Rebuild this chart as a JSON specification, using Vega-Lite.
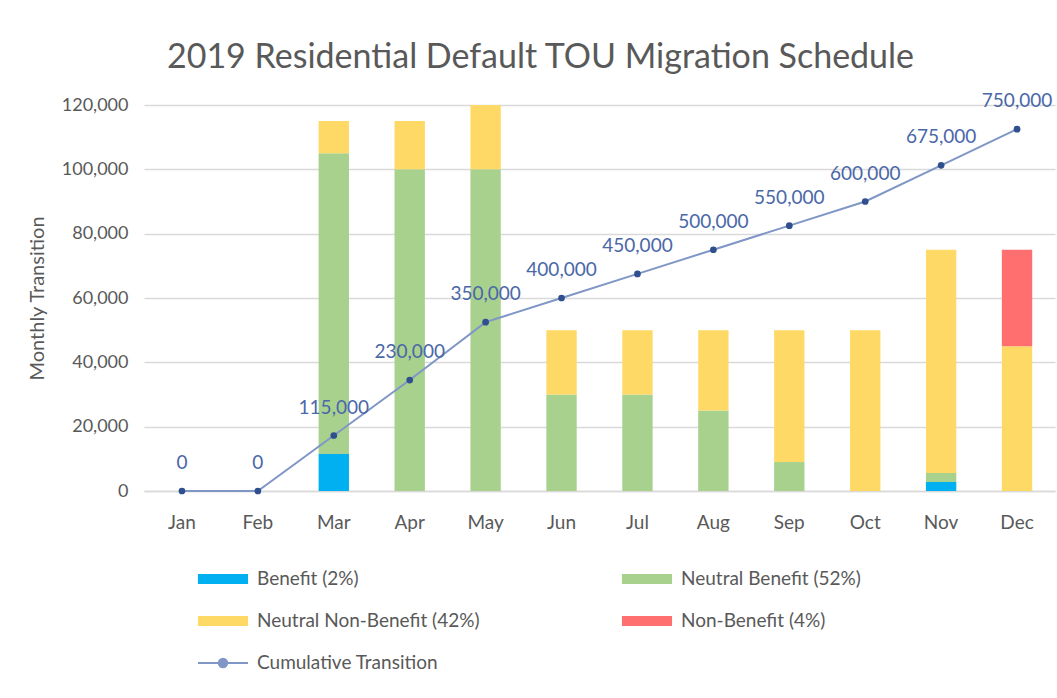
{
  "$schema": "https://vega.github.io/schema/vega-lite/v6.json",
  "autosize": {"type": "none"},
  "padding": {"left": 144, "top": 105, "right": 2, "bottom": 207},
  "width": 911,
  "height": 386,
  "background": "white",
  "title": {
    "text": "2019 Residential Default TOU Migration Schedule",
    "font": "Lato",
    "fontSize": 34,
    "fontWeight": "normal",
    "color": "#595959",
    "anchor": "middle",
    "dx": -59,
    "offset": 17
  },
  "datasets": {
    "bars": [
      {"month": "Mar", "category": "Benefit (2%)", "value": 11500},
      {"month": "Mar", "category": "Neutral Benefit (52%)", "value": 93500},
      {"month": "Mar", "category": "Neutral Non-Benefit (42%)", "value": 10000},
      {"month": "Apr", "category": "Neutral Benefit (52%)", "value": 100000},
      {"month": "Apr", "category": "Neutral Non-Benefit (42%)", "value": 15000},
      {"month": "May", "category": "Neutral Benefit (52%)", "value": 100000},
      {"month": "May", "category": "Neutral Non-Benefit (42%)", "value": 20000},
      {"month": "Jun", "category": "Neutral Benefit (52%)", "value": 30000},
      {"month": "Jun", "category": "Neutral Non-Benefit (42%)", "value": 20000},
      {"month": "Jul", "category": "Neutral Benefit (52%)", "value": 30000},
      {"month": "Jul", "category": "Neutral Non-Benefit (42%)", "value": 20000},
      {"month": "Aug", "category": "Neutral Benefit (52%)", "value": 25000},
      {"month": "Aug", "category": "Neutral Non-Benefit (42%)", "value": 25000},
      {"month": "Sep", "category": "Neutral Benefit (52%)", "value": 9000},
      {"month": "Sep", "category": "Neutral Non-Benefit (42%)", "value": 41000},
      {"month": "Oct", "category": "Neutral Non-Benefit (42%)", "value": 50000},
      {"month": "Nov", "category": "Benefit (2%)", "value": 2800},
      {"month": "Nov", "category": "Neutral Benefit (52%)", "value": 2800},
      {"month": "Nov", "category": "Neutral Non-Benefit (42%)", "value": 69400},
      {"month": "Dec", "category": "Neutral Non-Benefit (42%)", "value": 45000},
      {"month": "Dec", "category": "Non-Benefit (4%)", "value": 30000}
    ],
    "cum": [
      {"month": "Jan", "cumulative": 0},
      {"month": "Feb", "cumulative": 0},
      {"month": "Mar", "cumulative": 115000},
      {"month": "Apr", "cumulative": 230000},
      {"month": "May", "cumulative": 350000},
      {"month": "Jun", "cumulative": 400000},
      {"month": "Jul", "cumulative": 450000},
      {"month": "Aug", "cumulative": 500000},
      {"month": "Sep", "cumulative": 550000},
      {"month": "Oct", "cumulative": 600000},
      {"month": "Nov", "cumulative": 675000},
      {"month": "Dec", "cumulative": 750000}
    ]
  },
  "encoding": {
    "x": {
      "field": "month",
      "type": "nominal",
      "sort": ["Jan","Feb","Mar","Apr","May","Jun","Jul","Aug","Sep","Oct","Nov","Dec"],
      "scale": {"domain": ["Jan","Feb","Mar","Apr","May","Jun","Jul","Aug","Sep","Oct","Nov","Dec"], "paddingInner": 0.6, "paddingOuter": 0.3},
      "axis": {
        "title": null,
        "labelAngle": 0,
        "labelFont": "Lato",
        "labelFontSize": 19,
        "labelColor": "#595959",
        "labelPadding": 22,
        "ticks": false,
        "domainColor": "#D9D9D9",
        "domainWidth": 1.5
      }
    }
  },
  "layer": [
    {
      "data": {"name": "bars"},
      "mark": {"type": "bar"},
      "encoding": {
        "y": {
          "field": "value",
          "type": "quantitative",
          "stack": "zero",
          "scale": {"domain": [0, 120000]},
          "axis": {
            "title": "Monthly Transition",
            "titleFont": "Lato",
            "titleFontSize": 20,
            "titleFontWeight": "normal",
            "titleColor": "#595959",
            "titlePadding": 14,
            "labelFont": "Lato",
            "labelFontSize": 18,
            "labelColor": "#595959",
            "labelPadding": 16,
            "labelExpr": "format(datum.value, ',.0f')",
            "values": [0, 20000, 40000, 60000, 80000, 100000, 120000],
            "ticks": false,
            "domain": false,
            "gridColor": "#D9D9D9",
            "gridWidth": 1.5
          }
        },
        "order": {"field": "category", "sort": "ascending"},
        "color": {
          "field": "category",
          "type": "nominal",
          "scale": {
            "domain": ["Benefit (2%)", "Neutral Benefit (52%)", "Neutral Non-Benefit (42%)", "Non-Benefit (4%)", "Cumulative Transition"],
            "range": ["#00B0F0", "#A9D18E", "#FFD966", "#FF6F6F", "#7F96C6"]
          },
          "legend": {
            "title": null,
            "orient": "none",
            "direction": "horizontal",
            "legendX": 63,
            "legendY": 458,
            "columns": 2,
            "columnPadding": 137,
            "rowPadding": 16,
            "symbolSize": 900,
            "labelOffset": 18,
            "labelFont": "Lato",
            "labelFontSize": 19,
            "labelColor": "#595959",
            "labelLimit": 400,
            "encode": {
              "symbols": {
                "update": {
                  "shape": {"signal": "datum.value === 'Cumulative Transition' ? 'M-1.67,0H1.67M0.28,0A0.28,0.28 0 1 1 -0.28,0A0.28,0.28 0 1 1 0.28,0Z' : 'M-1.67,-0.33H1.67V0.33H-1.67Z'"},
                  "fill": {"signal": "datum.value === 'Cumulative Transition' ? '#2F4F8F' : scale('color', datum.value)"},
                  "stroke": {"signal": "datum.value === 'Cumulative Transition' ? '#7F96C6' : 'transparent'"},
                  "strokeWidth": {"value": 2},
                  "opacity": {"value": 1},
                  "fillOpacity": {"value": 1}
                }
              }
            }
          }
        }
      }
    },
    {
      "data": {"name": "cum"},
      "layer": [
        {
          "mark": {"type": "line", "color": "#7F96C6", "strokeWidth": 2},
          "encoding": {
            "y": {"field": "cumulative", "type": "quantitative", "scale": {"domain": [0, 800000]}, "axis": null}
          }
        },
        {
          "mark": {"type": "point", "filled": true, "color": "#2F4F8F", "size": 45, "opacity": 1},
          "encoding": {
            "y": {"field": "cumulative", "type": "quantitative", "scale": {"domain": [0, 800000]}, "axis": null}
          }
        },
        {
          "mark": {"type": "text", "dy": -28, "font": "Lato", "fontSize": 19, "color": "#4A67A8"},
          "encoding": {
            "y": {"field": "cumulative", "type": "quantitative", "scale": {"domain": [0, 800000]}, "axis": null},
            "text": {"field": "cumulative", "type": "quantitative", "format": ","}
          }
        }
      ]
    }
  ],
  "resolve": {"scale": {"y": "independent"}},
  "config": {"view": {"stroke": null}}
}
